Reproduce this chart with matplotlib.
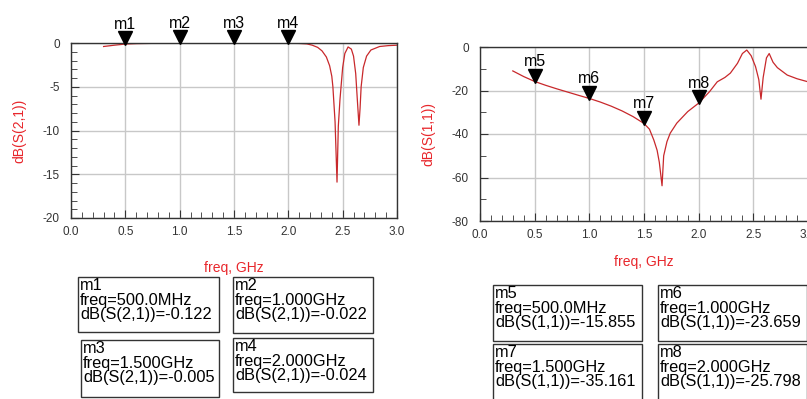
import matplotlib
matplotlib.use("Agg")
import matplotlib.pyplot as plt
import matplotlib.transforms as mtransforms
from matplotlib.patches import Rectangle
from matplotlib.ticker import MultipleLocator

plt.rcParams['font.family'] = ['Liberation Sans', 'DejaVu Sans']

# S(2,1) curve
f21 = [0.3, 0.4, 0.5, 0.6, 0.8, 1.0, 1.5, 2.0, 2.1, 2.17, 2.22, 2.27, 2.31, 2.35, 2.38,
       2.40, 2.41, 2.43, 2.448, 2.46, 2.475, 2.485, 2.50, 2.52, 2.55, 2.58, 2.60,
       2.62, 2.635, 2.65, 2.66, 2.67, 2.69, 2.72, 2.76, 2.84, 2.92, 3.0]
s21 = [-0.4, -0.25, -0.122, -0.07, -0.03, -0.022, -0.005, -0.024, -0.05, -0.1, -0.25, -0.5,
       -0.9, -1.6, -2.6, -3.8, -5.0, -9.0, -15.9, -9.5, -6.5, -5.0, -2.8, -1.2, -0.45, -0.7,
       -1.5, -3.5, -6.5, -9.4, -7.5, -5.0, -2.8, -1.5, -0.8, -0.4, -0.3, -0.25]

# S(1,1) curve
f11 = [0.3, 0.4, 0.5, 0.6, 0.7, 0.8, 0.9, 1.0, 1.1, 1.2, 1.3, 1.4, 1.5, 1.55, 1.59,
       1.62, 1.64, 1.665, 1.68, 1.71, 1.74, 1.8, 1.9, 2.0, 2.1, 2.17, 2.24, 2.29, 2.355,
       2.40, 2.44, 2.48, 2.52, 2.55, 2.57, 2.59, 2.62, 2.645, 2.68, 2.72, 2.81, 2.9, 3.0]
s11 = [-11.0, -13.6, -15.855, -17.6, -19.2, -20.7, -22.2, -23.659, -25.3, -27.2, -29.4,
       -32.0, -35.161, -37.8, -42.8, -47.5, -53.0, -63.8, -50.0, -43.5, -39.6, -35.0,
       -29.7, -25.798, -20.5, -16.0, -14.0, -12.0, -7.5, -3.0, -1.4, -4.0, -9.0, -15.0,
       -24.0, -14.0, -5.0, -3.0, -7.0, -9.5, -12.9, -14.6, -16.0]

m21_names = ['m1', 'm2', 'm3', 'm4']
m21_freq = [0.5, 1.0, 1.5, 2.0]
m21_val = [-0.122, -0.022, -0.005, -0.024]
m11_names = ['m5', 'm6', 'm7', 'm8']
m11_freq = [0.5, 1.0, 1.5, 2.0]
m11_val = [-15.855, -23.659, -35.161, -25.798]
m21_freqtxt = ['500.0MHz', '1.000GHz', '1.500GHz', '2.000GHz']
m11_freqtxt = ['500.0MHz', '1.000GHz', '1.500GHz', '2.000GHz']

W, H = 807, 399
fig = plt.figure(figsize=(W / 100, H / 100), dpi=100)

red = '#c8282b'
lblred = '#e8262b'


def px_axes(l, t, r, b):
    return fig.add_axes([l / W, 1 - b / H, (r - l) / W, (b - t) / H])


def style(ax, ylo, ymaj, ymin, ylabel, xpad):
    ax.set_xlim(0, 3.0)
    ax.set_ylim(ylo, 0)
    ax.xaxis.set_major_locator(MultipleLocator(0.5))
    ax.xaxis.set_minor_locator(MultipleLocator(0.1))
    ax.yaxis.set_major_locator(MultipleLocator(ymaj))
    ax.yaxis.set_minor_locator(MultipleLocator(ymin))
    ax.xaxis.set_major_formatter(plt.FuncFormatter(lambda v, p: f"{v:.1f}"))
    ax.yaxis.set_major_formatter(plt.FuncFormatter(lambda v, p: f"{v:.0f}"))
    ax.grid(True, which='major', color='#c8c8c8', lw=1)
    ax.tick_params(which='both', direction='in', labelsize=8.5, colors='#333333',
                   top=False, right=False)
    ax.tick_params(axis='x', which='major', pad=6)
    ax.tick_params(axis='y', which='major', pad=8)
    ax.tick_params(which='major', length=6)
    ax.tick_params(which='minor', length=4)
    for s in ax.spines.values():
        s.set_color('#333333')
        s.set_linewidth(1)
    ax.set_xlabel('freq, GHz', color=lblred, fontsize=10, labelpad=xpad)
    ax.set_ylabel(ylabel, color=lblred, fontsize=10, labelpad=12)


def markers(ax, names, fx, fy):
    ms = 9.5
    tr = mtransforms.offset_copy(ax.transData, fig=fig, x=0, y=ms * 0.45, units='points')
    for n, x, y in zip(names, fx, fy):
        ax.plot([x], [y], marker='v', color='black', ms=ms, transform=tr,
                clip_on=False, zorder=5)
        ax.annotate(n, (x, y), xytext=(0, ms * 0.95), textcoords='offset points',
                    ha='center', va='bottom', fontsize=11.5, annotation_clip=False)


ax1 = px_axes(71, 43, 397, 218)
ax1.plot(f21, s21, color=red, lw=0.9)
style(ax1, -20, 5, 1, 'dB(S(2,1))', 16)
markers(ax1, m21_names, m21_freq, m21_val)

ax2 = px_axes(480, 47, 808, 221)
ax2.plot(f11, s11, color=red, lw=0.9)
style(ax2, -80, 20, 10, 'dB(S(1,1))', 10)
markers(ax2, m11_names, m11_freq, m11_val)


def box(l, t, r, b, text):
    fig.patches.append(Rectangle((l / W, 1 - b / H), (r - l) / W, (b - t) / H,
                                 transform=fig.transFigure, fill=False,
                                 ec='#333333', lw=1))
    fig.text((l + 2) / W, 1 - (t + 1) / H, text, ha='left', va='top',
             fontsize=11.8, linespacing=0.97)


boxes21 = [(78, 277, 219, 332), (233, 277, 373, 333), (81, 340, 219, 397), (233, 338, 373, 392)]
boxes11 = [(493, 285, 642, 341), (658, 285, 807, 341), (493, 344, 642, 402), (658, 344, 807, 402)]
for bx, n, ft, v in zip(boxes21, m21_names, m21_freqtxt, m21_val):
    box(*bx, f"{n}\nfreq={ft}\ndB(S(2,1))={v:.3f}")
for bx, n, ft, v in zip(boxes11, m11_names, m11_freqtxt, m11_val):
    box(*bx, f"{n}\nfreq={ft}\ndB(S(1,1))={v:.3f}")

fig.savefig('out.png', dpi=100)
